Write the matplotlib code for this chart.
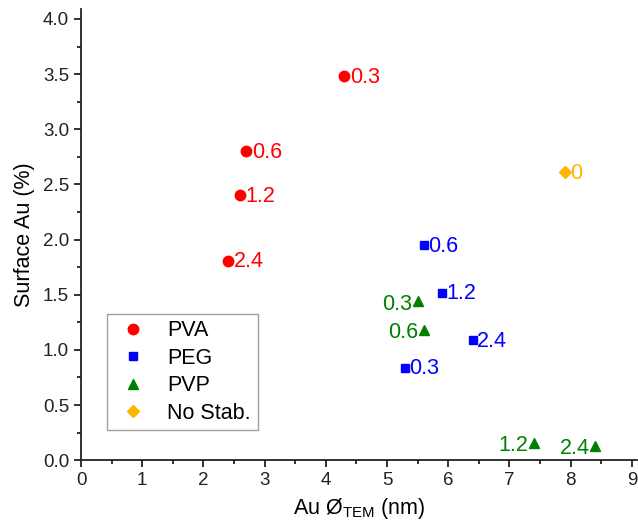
import matplotlib
matplotlib.use("Agg")
import matplotlib.pyplot as plt
from matplotlib.ticker import MultipleLocator

plt.rcParams['font.family'] = ['Liberation Sans', 'DejaVu Sans']
plt.rcParams['mathtext.default'] = 'regular'

# PVA
pva_x = [4.3, 2.7, 2.6, 2.4]
pva_y = [3.48, 2.80, 2.40, 1.81]
pva_lab = ["0.3", "0.6", "1.2", "2.4"]

# PEG
peg_x = [5.6, 5.9, 6.4, 5.3]
peg_y = [1.95, 1.52, 1.09, 0.84]
peg_lab = ["0.6", "1.2", "2.4", "0.3"]

# PVP
pvp_x = [5.5, 5.6, 7.4, 8.4]
pvp_y = [1.44, 1.18, 0.16, 0.13]
pvp_lab = ["0.3", "0.6", "1.2", "2.4"]

# no stabiliser
ns_x = [7.9]
ns_y = [2.61]
ns_lab = ["0"]

fig = plt.figure(figsize=(6.38, 5.29), dpi=100)
ax = fig.add_axes([0.127, 0.130, 0.872, 0.853])

ax.plot(pva_x, pva_y, 'o', color='#ff0000', ms=7.5, ls='none', label='PVA')
ax.plot(peg_x, peg_y, 's', color='#0000ff', ms=6, ls='none', label='PEG')
ax.plot(pvp_x, pvp_y, '^', color='#008000', ms=7.5, ls='none', label='PVP')
ax.plot(ns_x, ns_y, 'D', color='#ffb400', ms=6, ls='none', label='No Stab.')

fs = 15.5
for x, y, t in zip(pva_x, pva_y, pva_lab):
    ax.annotate(t, (x, y), xytext=(4, -1), textcoords='offset points',
                ha='left', va='center', color='#ff0000', fontsize=fs)
for x, y, t in zip(peg_x, peg_y, peg_lab):
    ax.annotate(t, (x, y), xytext=(3, -1), textcoords='offset points',
                ha='left', va='center', color='#0000ff', fontsize=fs)
for x, y, t in zip(pvp_x, pvp_y, pvp_lab):
    ax.annotate(t, (x, y), xytext=(-4, -2), textcoords='offset points',
                ha='right', va='center', color='#008000', fontsize=fs)
for x, y, t in zip(ns_x, ns_y, ns_lab):
    ax.annotate(t, (x, y), xytext=(4, -1), textcoords='offset points',
                ha='left', va='center', color='#ffb400', fontsize=fs)

ax.set_xlim(0, 9.09)
ax.set_ylim(0, 4.09)
ax.xaxis.set_major_locator(MultipleLocator(1))
ax.xaxis.set_minor_locator(MultipleLocator(0.5))
ax.yaxis.set_major_locator(MultipleLocator(0.5))
ax.yaxis.set_minor_locator(MultipleLocator(0.25))
ax.yaxis.set_major_formatter(plt.FormatStrFormatter('%.1f'))

for s in ['top', 'right']:
    ax.spines[s].set_visible(False)
for s in ['left', 'bottom']:
    ax.spines[s].set_linewidth(1.3)
    ax.spines[s].set_color('#222222')

ax.tick_params(which='major', direction='out', length=5, width=1.3, labelsize=13.5, colors='#222222')
ax.tick_params(which='minor', direction='out', length=3, width=1.3, colors='#222222')

ax.set_xlabel(r'Au Ø$_{TEM}$ (nm)', fontsize=15.5, labelpad=5)
ax.set_ylabel('Surface Au (%)', fontsize=15.5, labelpad=6)

leg = ax.legend(loc='lower left', bbox_to_anchor=(0.047, 0.067), borderaxespad=0, fontsize=15.5,
                frameon=True, fancybox=False, edgecolor='#888888',
                handletextpad=0.7, borderpad=0.3, labelspacing=0.3, handlelength=1.8)
leg.get_frame().set_linewidth(1.0)

fig.savefig('out.png', dpi=100)
